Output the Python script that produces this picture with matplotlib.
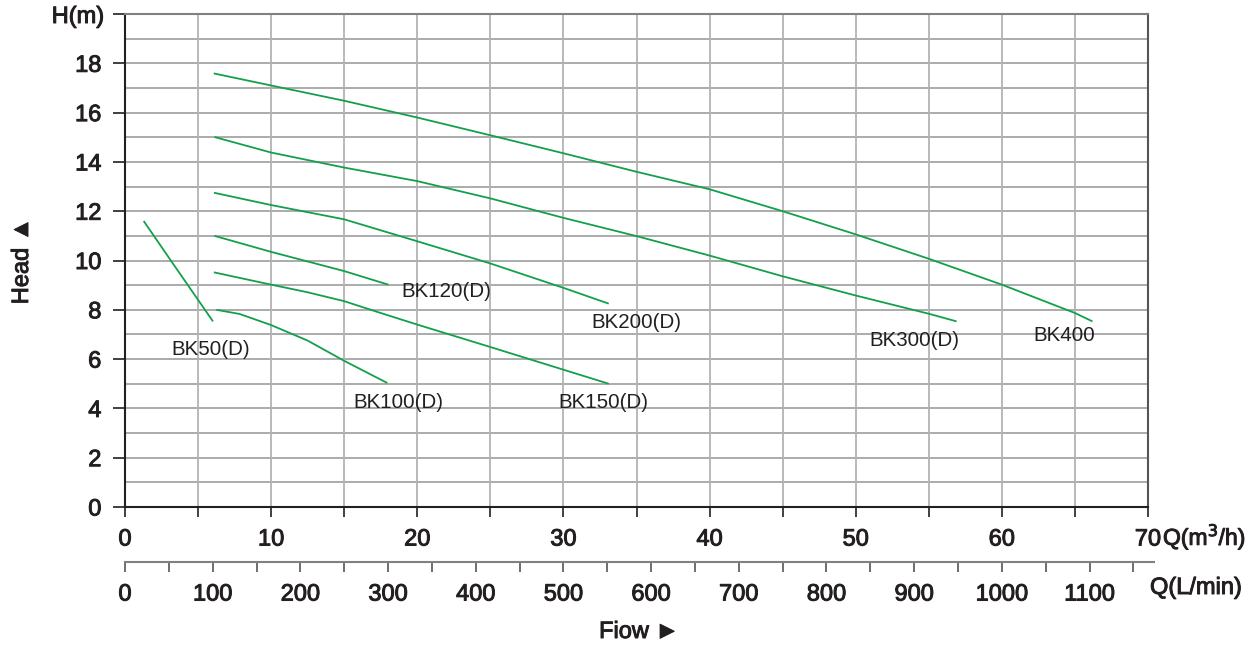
import matplotlib
matplotlib.use('Agg')
import matplotlib.pyplot as plt
import matplotlib.patheffects as pe
import numpy as np

plt.rcParams['font.family'] = ['Liberation Sans', 'DejaVu Sans']

# pump curves, flow in m3/h, head in m
bk50_q = [1.28, 3.17, 6.02]
bk50_h = [11.6, 9.97, 7.53]
bk100_q = [6.25, 7.85, 10, 12.5, 15, 17.95]
bk100_h = [8.0, 7.83, 7.38, 6.75, 5.93, 5.03]
bk120_q = [6.12, 10, 15, 18.02]
bk120_h = [11.0, 10.35, 9.57, 9.02]
bk150_q = [6.08, 10, 12.5, 15, 17.5, 20, 25, 30, 33.1]
bk150_h = [9.52, 9.02, 8.71, 8.35, 7.87, 7.4, 6.49, 5.57, 5.0]
bk200_q = [6.08, 10, 15, 20, 25, 30, 33.1]
bk200_h = [12.75, 12.25, 11.67, 10.78, 9.88, 8.89, 8.25]
bk300_q = [6.12, 10, 15, 20, 25, 30, 35, 40, 45, 50, 55, 56.9]
bk300_h = [15.01, 14.38, 13.77, 13.22, 12.52, 11.73, 10.99, 10.2, 9.36, 8.58, 7.84, 7.53]
bk400_q = [6.07, 10, 15, 20, 25, 30, 35, 40, 45, 50, 55, 60, 65, 66.2]
bk400_h = [17.59, 17.1, 16.48, 15.8, 15.08, 14.35, 13.6, 12.89, 12.0, 11.06, 10.07, 9.02, 7.87, 7.53]

curves = [(bk50_q, bk50_h), (bk100_q, bk100_h), (bk120_q, bk120_h), (bk150_q, bk150_h),
          (bk200_q, bk200_h), (bk300_q, bk300_h), (bk400_q, bk400_h)]

# curve labels and where they sit
names = ['BK50(D)', 'BK100(D)', 'BK120(D)', 'BK150(D)', 'BK200(D)', 'BK300(D)', 'BK400']
label_q = [5.85, 18.7, 22.0, 32.7, 35.0, 54.0, 64.3]
label_h = [6.38, 4.23, 8.76, 4.23, 7.48, 6.75, 6.95]

m3h_ticks = np.arange(0, 71, 10)
lmin_ticks = np.arange(0, 1101, 100)
head_ticks = np.arange(0, 21, 2)

green = '#13a04a'
dark = '#231f20'
thick = [pe.withStroke(linewidth=0.7, foreground=dark)]

fig = plt.figure(figsize=(12.59, 6.46), dpi=100)
ax = fig.add_axes([125/1259, 1-507/646, (1148-125)/1259, (507-14)/646])

for q, h in curves:
    ax.plot(q, h, color=green, lw=1.3, solid_capstyle='butt', solid_joinstyle='round')

for n, x, y in zip(names, label_q, label_h):
    ax.text(x, y, n, fontsize=14.8, color=dark, ha='center', va='center')

ax.set_xlim(0, 70)
ax.set_ylim(0, 20)

# grid
for yy in range(1, 20):
    ax.axhline(yy, color='#ababab', lw=1.4, zorder=0)
for xx in range(5, 70, 5):
    ax.axvline(xx, color='#b3b3b3', lw=1.3, zorder=0)

ax.set_yticks(head_ticks)
ax.set_yticklabels([str(v) for v in head_ticks[:-1]] + [''])
ax.set_xticks(m3h_ticks)
ax.set_xticklabels([str(v) for v in m3h_ticks])
ax.set_xticks(np.arange(5, 70, 10), minor=True)
ax.tick_params(axis='y', length=9, width=1.2, color=dark, pad=8, labelsize=17, labelcolor=dark)
ax.tick_params(axis='x', which='both', length=7.5, width=1.2, color=dark, pad=8, labelsize=17, labelcolor=dark)
for t in ax.get_xticklabels() + ax.get_yticklabels():
    t.set_path_effects(thick)

ax.spines['left'].set_color(dark)
ax.spines['left'].set_linewidth(1.5)
ax.spines['bottom'].set_color(dark)
ax.spines['bottom'].set_linewidth(1.5)
ax.spines['top'].set_color('#808080')
ax.spines['top'].set_linewidth(1.5)
ax.spines['right'].set_color('#555555')
ax.spines['right'].set_linewidth(1.5)

# second flow axis in L/min
sec = ax.secondary_xaxis(-0.1116, functions=(lambda x: x * 1000 / 60, lambda x: x * 60 / 1000))
sec.set_xticks(lmin_ticks)
sec.set_xticklabels([str(v) for v in lmin_ticks])
sec.set_xticks(np.arange(50, 1151, 100), minor=True)
sec.tick_params(axis='x', which='both', length=7.5, width=1.2, color='#555555', pad=8,
                labelsize=17, labelcolor=dark)
for t in sec.get_xticklabels():
    t.set_path_effects(thick)
sec.spines['bottom'].set_color('#808080')
sec.spines['bottom'].set_linewidth(1.5)
sec.spines['bottom'].set_bounds(0, 1173)

fig.text(78/1259, 1-17/646, 'H(m)', fontsize=17, color=dark, ha='center', va='center', path_effects=thick)
fig.text(22/1259, 1-261/646, 'Head \u25b2', fontsize=17, color=dark,
         ha='center', va='center', rotation=90, path_effects=thick)
fig.text(1163/1259, 1-537/646, 'Q(m$^3$/h)', fontsize=16.5, color=dark, ha='left', va='center', path_effects=thick)
fig.text(1150/1259, 1-588/646, 'Q(L/min)', fontsize=17, color=dark, ha='left', va='center', path_effects=thick)
fig.text(639/1259, 1-632/646, 'Fiow \u25ba', fontsize=17, color=dark, ha='center', va='center', path_effects=thick)

fig.savefig('out.png', dpi=100)
